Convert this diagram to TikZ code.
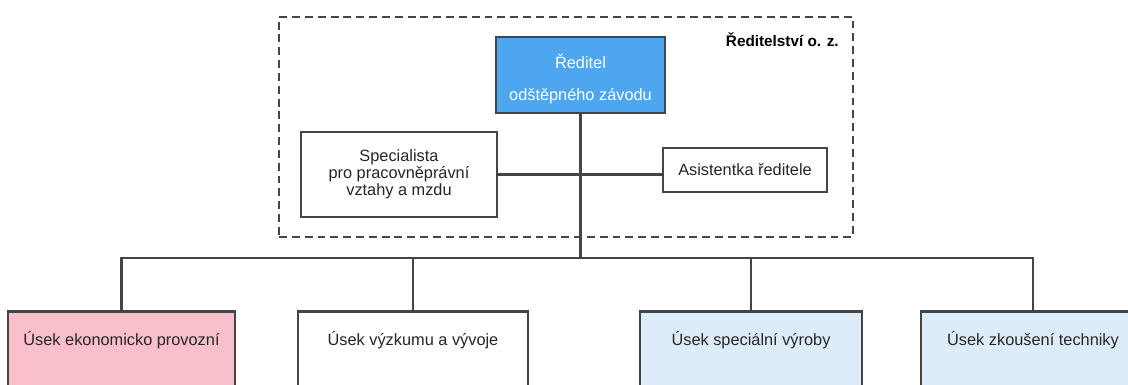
\documentclass[tikz,border=0pt]{standalone}
\usepackage{fontspec}
\setmainfont{Liberation Sans}
\usepackage{tikz}
\usetikzlibrary{positioning}

\definecolor{rulegrey}{HTML}{454545}
\definecolor{headblue}{HTML}{4DA6EF}
\definecolor{ekopink}{HTML}{F9C0CC}
\definecolor{paleblue}{HTML}{DCEDF9}

\begin{document}
\begin{tikzpicture}[x=0.02cm, y=-0.02cm,
    font=\fontsize{9.3}{9.8}\selectfont,
    orgbox/.style={draw=rulegrey, line width=1.5pt, rectangle, align=center, text=black!85},
    unitbox/.style={orgbox, anchor=north, inner ysep=0.2cm, text height=0.48cm, text depth=1.2cm},
    link/.style={draw=rulegrey, line width=1.3pt}]

% picture is cut at the bottom like the scan, so clip the unit boxes
\useasboundingbox (0,0) rectangle (1128,385);
\clip (0,0) rectangle (1128,385);
\fill[white] (0,0) rectangle (1128,385);

\node [draw=rulegrey, line width=1.4pt, dash pattern=on 4.5pt off 2.8pt, minimum width=11.48cm, minimum height=4.4cm] (oz) at (566,127) {};
\node [anchor=east, inner sep=0pt, font=\fontsize{8.7}{9.8}\selectfont\bfseries    ] (ozname) at (839,40) {Ředitelství o. z.};

\node [orgbox, fill=headblue, text=white, minimum width=3.38cm, minimum height=1.52cm] (dir)  at (580.5,75) {\rule{0pt}{13pt}Ředitel\\[8.3pt]odštěpného závodu};
\node [orgbox, minimum width=3.92cm, minimum height=1.7cm                           ] (spec) at (399,174.5) {Specialista\\pro pracovněprávní\\vztahy a mzdu};
\node [orgbox, minimum width=3.28cm, minimum height=0.88cm                          ] (asis) at (745,170)   {Asistentka ředitele};

\node [unitbox, fill=ekopink , minimum width=4.54cm] (eko) at (121.5,310) {Úsek ekonomicko provozní};
\node [unitbox, fill=white   , minimum width=4.6cm ] (vyv) at (413,310)   {Úsek výzkumu a vývoje};
\node [unitbox, fill=paleblue, minimum width=4.44cm] (spv) at (751,310)   {Úsek speciální výroby};
\node [unitbox, fill=paleblue, minimum width=4.48cm] (zko) at (1033,310)  {Úsek zkoušení techniky};

\coordinate (bus) at (580.5,258);

\path [link] (spec) -- (spec -| asis.west);
\path [link] (dir.south) -- (bus);
\path [link] (eko.north) |- (bus) -| (zko.north);
\path [link] (vyv.north) -- (vyv.north |- bus);
\path [link] (spv.north) -- (spv.north |- bus);

\end{tikzpicture}
\end{document}
